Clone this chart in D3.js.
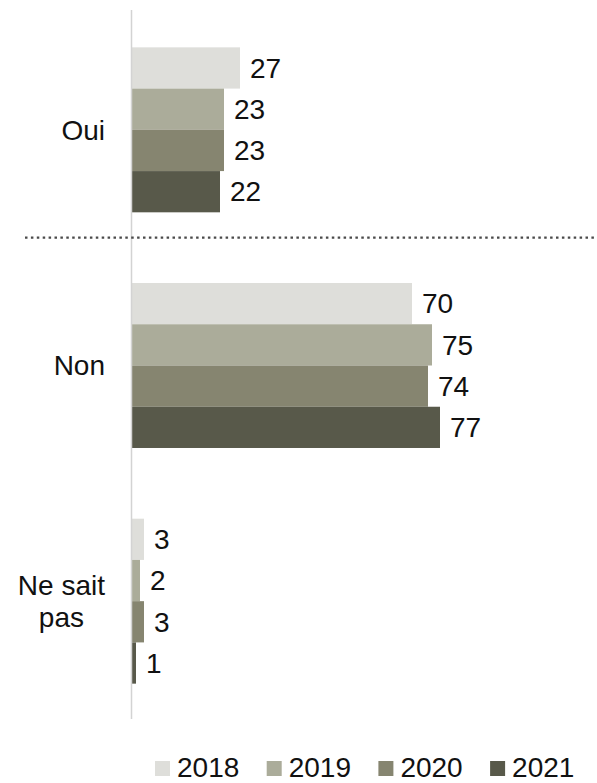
<!DOCTYPE html>
<html>
<head>
<meta charset="utf-8">
<script src="https://cdn.jsdelivr.net/npm/d3@7"></script>
<style>
  html, body { margin: 0; padding: 0; background: #fff; }
  svg { display: block; font-family: "Liberation Sans", Arial, sans-serif; }
</style>
</head>
<body>
<svg id="chart" width="597" height="783"></svg>
<script>
// Answer categories (top to bottom) and survey years
const categories = ["Oui", "Non", "Ne sait pas"];
const categoryLines = [["Oui"], ["Non"], ["Ne sait", "pas"]];
const years = ["2018", "2019", "2020", "2021"];
const colors = ["#dededa", "#abac9a", "#868570", "#58594a"];

// Percentages per year, in category order
const values2018 = [27, 70, 3];
const values2019 = [23, 75, 2];
const values2020 = [23, 74, 3];
const values2021 = [22, 77, 1];
const seriesValues = [values2018, values2019, values2020, values2021];

const svg = d3.select("#chart");

const x = d3.scaleLinear().domain([0, 100]).range([132, 532]);
const y = d3.scaleBand().domain(categories).range([12, 719])
  .paddingInner(0.3).paddingOuter(0.15);
const ySub = d3.scaleBand().domain(years).range([0, y.bandwidth()]);
const color = d3.scaleOrdinal().domain(years).range(colors);

// Flattened bar records
const bars = [];
categories.forEach((c, ci) => {
  years.forEach((yr, yi) => {
    bars.push({ category: c, year: yr, value: seriesValues[yi][ci] });
  });
});

// Bars
svg.append("g").selectAll("rect")
  .data(bars)
  .join("rect")
  .attr("x", x(0))
  .attr("y", d => y(d.category) + ySub(d.year))
  .attr("width", d => x(d.value) - x(0))
  .attr("height", ySub.bandwidth())
  .attr("fill", d => color(d.year));

// Value labels
svg.append("g").selectAll("text")
  .data(bars)
  .join("text")
  .attr("x", d => x(d.value) + 10)
  .attr("y", d => y(d.category) + ySub(d.year) + ySub.bandwidth() / 2)
  .attr("dy", "0.35em")
  .attr("font-size", 28)
  .attr("fill", "#111")
  .text(d => d.value);

// Vertical category axis line
svg.append("line")
  .attr("x1", x(0) - 0.5).attr("x2", x(0) - 0.5)
  .attr("y1", y.range()[0] - 2).attr("y2", y.range()[1])
  .attr("stroke", "#d3d3d3")
  .attr("stroke-width", 1.5);

// Category labels
const catG = svg.append("g");
categories.forEach((c, ci) => {
  const lines = categoryLines[ci];
  const cy = y(c) + y.bandwidth() / 2;
  const lh = 32;
  const t = catG.append("text")
    .attr("font-size", 28)
    .attr("fill", "#111");
  lines.forEach((ln, li) => {
    t.append("tspan")
      .attr("x", 0)
      .attr("y", cy + (li - (lines.length - 1) / 2) * lh)
      .attr("dy", "0.35em")
      .text(ln);
  });
  // Right-align the label block, center lines within it
  const tspans = t.selectAll("tspan").nodes();
  const widths = tspans.map(n => n.getComputedTextLength());
  const maxW = d3.max(widths);
  const right = 105;
  t.attr("text-anchor", "middle");
  t.selectAll("tspan").attr("x", right - maxW / 2);
});

// Dotted separator between "Oui" and "Non"
const sepY = (y("Oui") + y.bandwidth() + y("Non")) / 2 - 10;
svg.append("line")
  .attr("x1", 25).attr("x2", 597)
  .attr("y1", sepY).attr("y2", sepY)
  .attr("stroke", "#4a4a4a")
  .attr("stroke-width", 2.2)
  .attr("stroke-dasharray", "2.5,3.4");

// Legend
const legend = svg.append("g").attr("transform", "translate(155,761)");
const item = legend.selectAll("g")
  .data(years)
  .join("g")
  .attr("transform", (d, i) => `translate(${i * 111.7},0)`);
item.append("rect")
  .attr("width", 15).attr("height", 15)
  .attr("fill", d => color(d));
item.append("text")
  .attr("x", 22).attr("y", 15.5)
  .attr("font-size", 28)
  .attr("fill", "#111")
  .text(d => d);
</script>
</body>
</html>
